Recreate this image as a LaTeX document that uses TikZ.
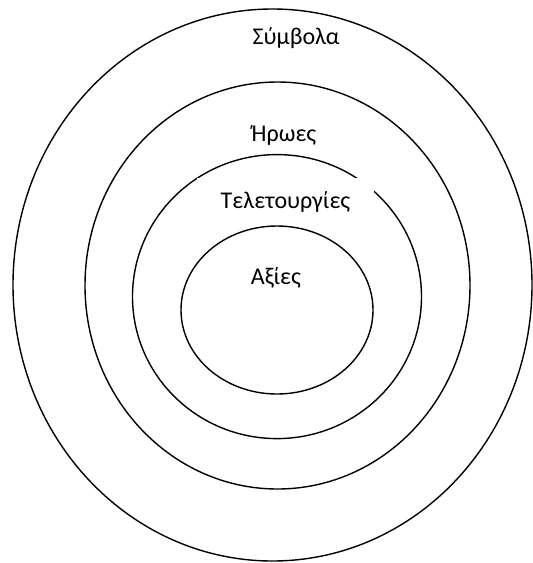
\documentclass[tikz,border=0pt]{standalone}
\usepackage{fontspec}
\setmainfont{Carlito}
\usetikzlibrary{positioning}

\tikzset{
  ring/.style={draw=black, line width=1.4pt},
  layer/.style={font=\fontsize{24}{28}\selectfont, inner sep=0pt},
  cover/.style={fill=white, inner sep=0pt, minimum width=177pt, minimum height=48pt}
}

\begin{document}
\begin{tikzpicture}[x=1pt, y=-1pt]
\useasboundingbox (0,0) rectangle (533,563);

% Outer rings
\draw[ring] (272.5,285) ellipse [x radius=259.5, y radius=276];
\draw[ring] (277.5,285.5) ellipse [x radius=192.5, y radius=203.5];
\draw[ring] (277,296.6) ellipse [x radius=144.5, y radius=142];

% Label box cuts the third ring
\node[layer, cover] (rituals) at (285.5,202) {Τελετουργίες\hspace{10pt}};

% Inner ring
\draw[ring] (277,310) ellipse [x radius=96, y radius=84];

% Labels
\node[layer] (symbols) at (296,38) {Σύμβολα};
\node[layer] (heroes) at (284,135) {Ήρωες};
\node[layer] (values) at (276,278) {Αξίες};
\end{tikzpicture}
\end{document}
